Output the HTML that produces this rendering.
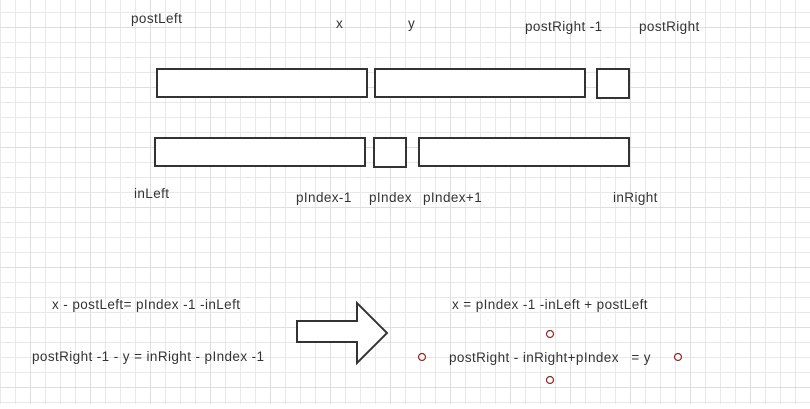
<!DOCTYPE html>
<html><head><meta charset="utf-8"><style>
html,body{margin:0;padding:0}
body{width:810px;height:404px;overflow:hidden;background:#fff}
svg text{font-family:"Liberation Sans",sans-serif;font-size:13.5px;letter-spacing:0.4px;fill:#333}
</style></head><body>
<svg width="810" height="404" xmlns="http://www.w3.org/2000/svg">
<defs>
<pattern id="minor" x="0" y="12" width="15" height="15" patternUnits="userSpaceOnUse">
<path d="M0.5 0V15M0 0.5H15" fill="none" stroke="#e8e8e8" stroke-width="1"/>
</pattern>
<pattern id="major" x="30" y="27" width="60" height="60" patternUnits="userSpaceOnUse">
<path d="M0.5 0V60M0 0.5H60" fill="none" stroke="#dedede" stroke-width="1"/>
</pattern>
</defs>
<rect width="810" height="404" fill="url(#minor)"/>
<rect width="810" height="404" fill="url(#major)"/>
<g fill="#fff" stroke="#333" stroke-width="2">
<rect x="157" y="69" width="210" height="28"/>
<rect x="375" y="69" width="210" height="28"/>
<rect x="597" y="69" width="32" height="29"/>
<rect x="155" y="138" width="210" height="28"/>
<rect x="374" y="138" width="32" height="29"/>
<rect x="419" y="138" width="210" height="28"/>
<path d="M297 321H357V303L387 333L357 363V342H297Z"/>
</g>
<text x="131" y="23">postLeft</text>
<text x="336" y="28">x</text>
<text x="408" y="28">y</text>
<text x="525" y="31">postRight -1</text>
<text x="639" y="31">postRight</text>
<text x="134" y="198">inLeft</text>
<text x="296" y="202">pIndex-1</text>
<text x="369" y="202">pIndex</text>
<text x="423" y="202">pIndex+1</text>
<text x="613" y="202">inRight</text>
<text x="52" y="309">x - postLeft= pIndex -1 -inLeft</text>
<text x="32" y="361">postRight -1 - y = inRight - pIndex -1</text>
<text x="452" y="309">x = pIndex -1 -inLeft + postLeft</text>
<text x="449" y="362" style="white-space:pre">postRight - inRight+pIndex   = y</text>
<g fill="none" stroke="#8b2a2a" stroke-width="1.2">
<circle cx="550" cy="334" r="3.5"/>
<circle cx="422" cy="357" r="3.5"/>
<circle cx="678" cy="357" r="3.5"/>
<circle cx="550" cy="380" r="3.5"/>
</g>
</svg>
</body></html>
